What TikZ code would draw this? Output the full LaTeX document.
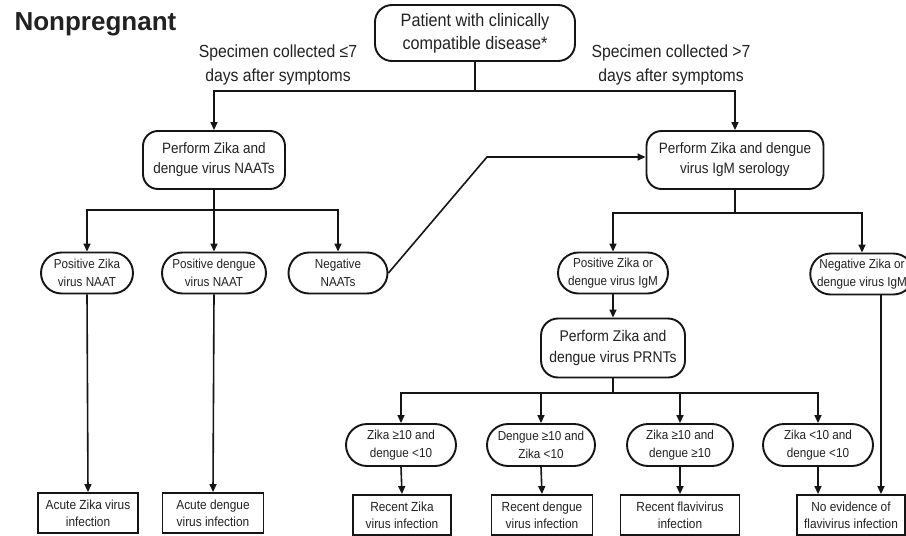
\documentclass[tikz,border=0pt]{standalone}
\usepackage{fontspec}
\setmainfont{Liberation Sans}[FakeStretch=0.9]
\newfontfamily\titlefont{Liberation Sans}
\usetikzlibrary{arrows.meta,shapes.misc}
\definecolor{txt}{HTML}{222222}
\definecolor{ln}{HTML}{151515}
\tikzset{
  base/.style={draw=ln, line width=1.9pt, align=center, inner sep=0pt, text=txt},
  rbox/.style={base, rounded corners=15pt},
  pill/.style={base, rounded rectangle, minimum height=41pt, font=\fontsize{13}{18.5}\selectfont},
  endbox/.style={base, rectangle, minimum height=40pt, font=\fontsize{13.2}{17}\selectfont},
  lbl/.style={text=txt, align=center, font=\fontsize{17.5}{24}\selectfont},
  conn/.style={draw=ln, line width=1.6pt},
  arr/.style={conn, -{Triangle[length=8pt,width=7pt]}}
}
\begin{document}
\begin{tikzpicture}[x=1pt,y=-1pt]
\clip (0,0) rectangle (906,536);
\fill[white] (0,0) rectangle (906,536);
% title
\node[text=txt, font=\titlefont\bfseries\fontsize{26}{30}\selectfont, anchor=west] (title) at (11,24) {Nonpregnant};
% top
\node[rbox, rounded corners=17pt, minimum width=200pt, minimum height=56pt, font=\fontsize{18}{23}\selectfont] (top) at (475,33) {Patient with clinically\\compatible disease*};
\node[lbl] (lL) at (278,65) {Specimen collected ≤7\\days after symptoms};
\node[lbl] (lR) at (671,65) {Specimen collected >7\\days after symptoms};
% level 2
\node[rbox, minimum width=142pt, minimum height=58pt, font=\fontsize{15}{20}\selectfont] (naat) at (214,160) {Perform Zika and\\dengue virus NAATs};
\node[rbox, minimum width=177pt, minimum height=58pt, font=\fontsize{15}{20}\selectfont] (sero) at (735,160) {Perform Zika and dengue\\virus IgM serology};
% level 3
\node[pill, minimum width=92pt] (p1) at (87,273) {Positive Zika\\virus NAAT};
\node[pill, minimum width=104pt] (p2) at (214,273) {Positive dengue\\virus NAAT};
\node[pill, minimum width=99pt] (p3) at (338,273) {Negative\\NAATs};
\node[pill, minimum width=110pt] (ipos) at (613,273) {Positive Zika or\\dengue virus IgM};
\node[pill, minimum width=98pt] (ineg) at (862,274) {Negative Zika or\\dengue virus IgM};
% PRNT
\node[rbox, rounded corners=17pt, minimum width=144pt, minimum height=59pt, font=\fontsize{15.5}{21}\selectfont] (prnt) at (613,348) {Perform Zika and\\dengue virus PRNTs};
% level 5
\node[pill, minimum width=110pt, minimum height=42pt] (q1) at (401,445) {Zika ≥10 and\\dengue <10};
\node[pill, minimum width=108pt, minimum height=42pt] (q2) at (541,445) {Dengue ≥10 and\\Zika <10};
\node[pill, minimum width=106pt, minimum height=42pt] (q3) at (680,445) {Zika ≥10 and\\dengue ≥10};
\node[pill, minimum width=110pt, minimum height=42pt] (q4) at (818,445) {Zika <10 and\\dengue <10};
% end boxes
\node[endbox, minimum width=100pt] (a1) at (88,513) {Acute Zika virus\\infection};
\node[endbox, minimum width=101pt] (a2) at (213,513) {Acute dengue\\virus infection};
\node[endbox, minimum width=98pt] (r1) at (402,515) {Recent Zika\\virus infection};
\node[endbox, minimum width=101pt] (r2) at (542,515) {Recent dengue\\virus infection};
\node[endbox, minimum width=119pt] (r3) at (680,515) {Recent flavivirus\\infection};
\node[endbox, minimum width=108pt] (r4) at (851,515) {No evidence of\\flavivirus infection};
% junctions
\coordinate (j1) at (475,91);
\coordinate (j2) at (214,210);
\coordinate (j3) at (735,213);
\coordinate (j4) at (613,393);
\coordinate (bend) at (487,157);
\coordinate (x881) at (881,0);
% connectors
\draw[conn] (top.south) -- (j1);
\draw[arr] (j1) -| (naat.north);
\draw[arr] (j1) -| (sero.north);
\draw[conn] (naat.south) -- (j2);
\draw[arr] (j2) -| (p1.north);
\draw[arr] (j2) -| (p2.north);
\draw[arr] (j2) -| (p3.north);
\draw[arr] (p3.east) -- (bend) -- ([yshift=3pt]sero.west);
\draw[conn] (sero.south) -- (j3);
\draw[arr] (j3) -| (ipos.north);
\draw[arr] (j3) -| (ineg.north);
\draw[arr] (ipos.south) -- (prnt.north);
\draw[conn] (prnt.south) -- (j4);
\draw[arr] (j4) -| (q1.north);
\draw[arr] (j4) -| (q2.north);
\draw[arr] (j4) -| (q3.north);
\draw[arr] (j4) -| (q4.north);
\draw[arr] (p1.south) -- (a1.north);
\draw[arr] (p2.south) -- (a2.north);
\draw[arr] (q1.south) -- (r1.north);
\draw[arr] (q2.south) -- (r2.north);
\draw[arr] (q3.south) -- (r3.north);
\draw[arr] (q4.south) -- (q4.south |- r4.north);
\draw[arr] (ineg.south -| x881) -- (r4.north -| x881);
\end{tikzpicture}
\end{document}
